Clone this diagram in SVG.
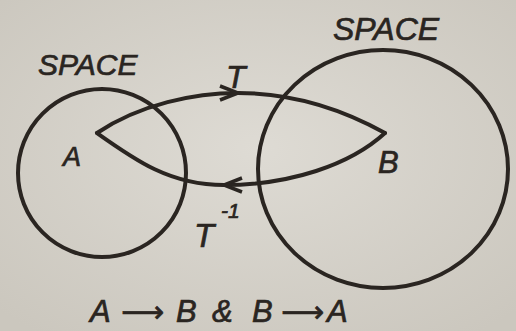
<svg xmlns="http://www.w3.org/2000/svg" width="516" height="331" viewBox="0 0 516 331">
  <defs>
    <radialGradient id="bg" cx="50%" cy="45%" r="70%">
      <stop offset="0" stop-color="#dedbd4"/>
      <stop offset="1" stop-color="#cbc7be"/>
    </radialGradient>
    <marker id="chev" markerUnits="userSpaceOnUse" markerWidth="30" markerHeight="30" refX="0" refY="0" viewBox="-20 -15 30 30" orient="auto" overflow="visible">
      <path d="M-18,-7 L0,0 L-18,7" fill="none" stroke="#2a2521" stroke-width="3.5" stroke-linejoin="miter"/>
    </marker>
    <style>
      .ln { fill: none; stroke: #2a2521; stroke-width: 4; stroke-linecap: round; }
      .tx { font-family: "Liberation Sans", Arial, sans-serif; font-style: italic; fill: #2a2521; stroke: #2a2521; stroke-width: 0.7; }
      .ar { font-family: "DejaVu Sans", sans-serif; font-style: normal; }
    </style>
  </defs>
  <rect x="0" y="0" width="516" height="331" fill="url(#bg)"/>

  <g id="space-a">
    <ellipse class="ln" cx="102" cy="173" rx="84" ry="84"/>
    <text class="tx" x="38" y="75" font-size="30">SPACE</text>
  </g>
  <g id="space-b">
    <ellipse class="ln" cx="383" cy="169" rx="125" ry="119"/>
    <text class="tx" x="333" y="40" font-size="32">SPACE</text>
  </g>
  <g id="point-a">
    <text class="tx" x="63" y="166" font-size="27">A</text>
  </g>
  <g id="point-b">
    <text class="tx" x="378" y="173" font-size="31">B</text>
  </g>

  <g id="connectors">
    <path id="t" class="ln" marker-mid="url(#chev)" d="M97,133 C140,104 195,93 238,93 C290,93 340,108 385,133"/>
    <path id="t-inv" class="ln" marker-mid="url(#chev)" d="M385,133 C350,165 290,185 224,185 C170,185 135,160 97,133"/>
  </g>

  <g id="labels">
    <text class="tx" x="226" y="88" font-size="32">T</text>
    <text class="tx" x="194" y="247" font-size="33">T</text>
    <text class="tx" x="221" y="218" font-size="21">-1</text>
    <text class="tx" x="90" y="322" font-size="31">A<tspan class="ar" x="121" font-size="30">⟶</tspan><tspan x="176">B</tspan> <tspan x="212">&amp;</tspan> <tspan x="252">B</tspan><tspan class="ar" x="281" font-size="30">⟶</tspan><tspan x="327">A</tspan></text>
  </g>
</svg>
